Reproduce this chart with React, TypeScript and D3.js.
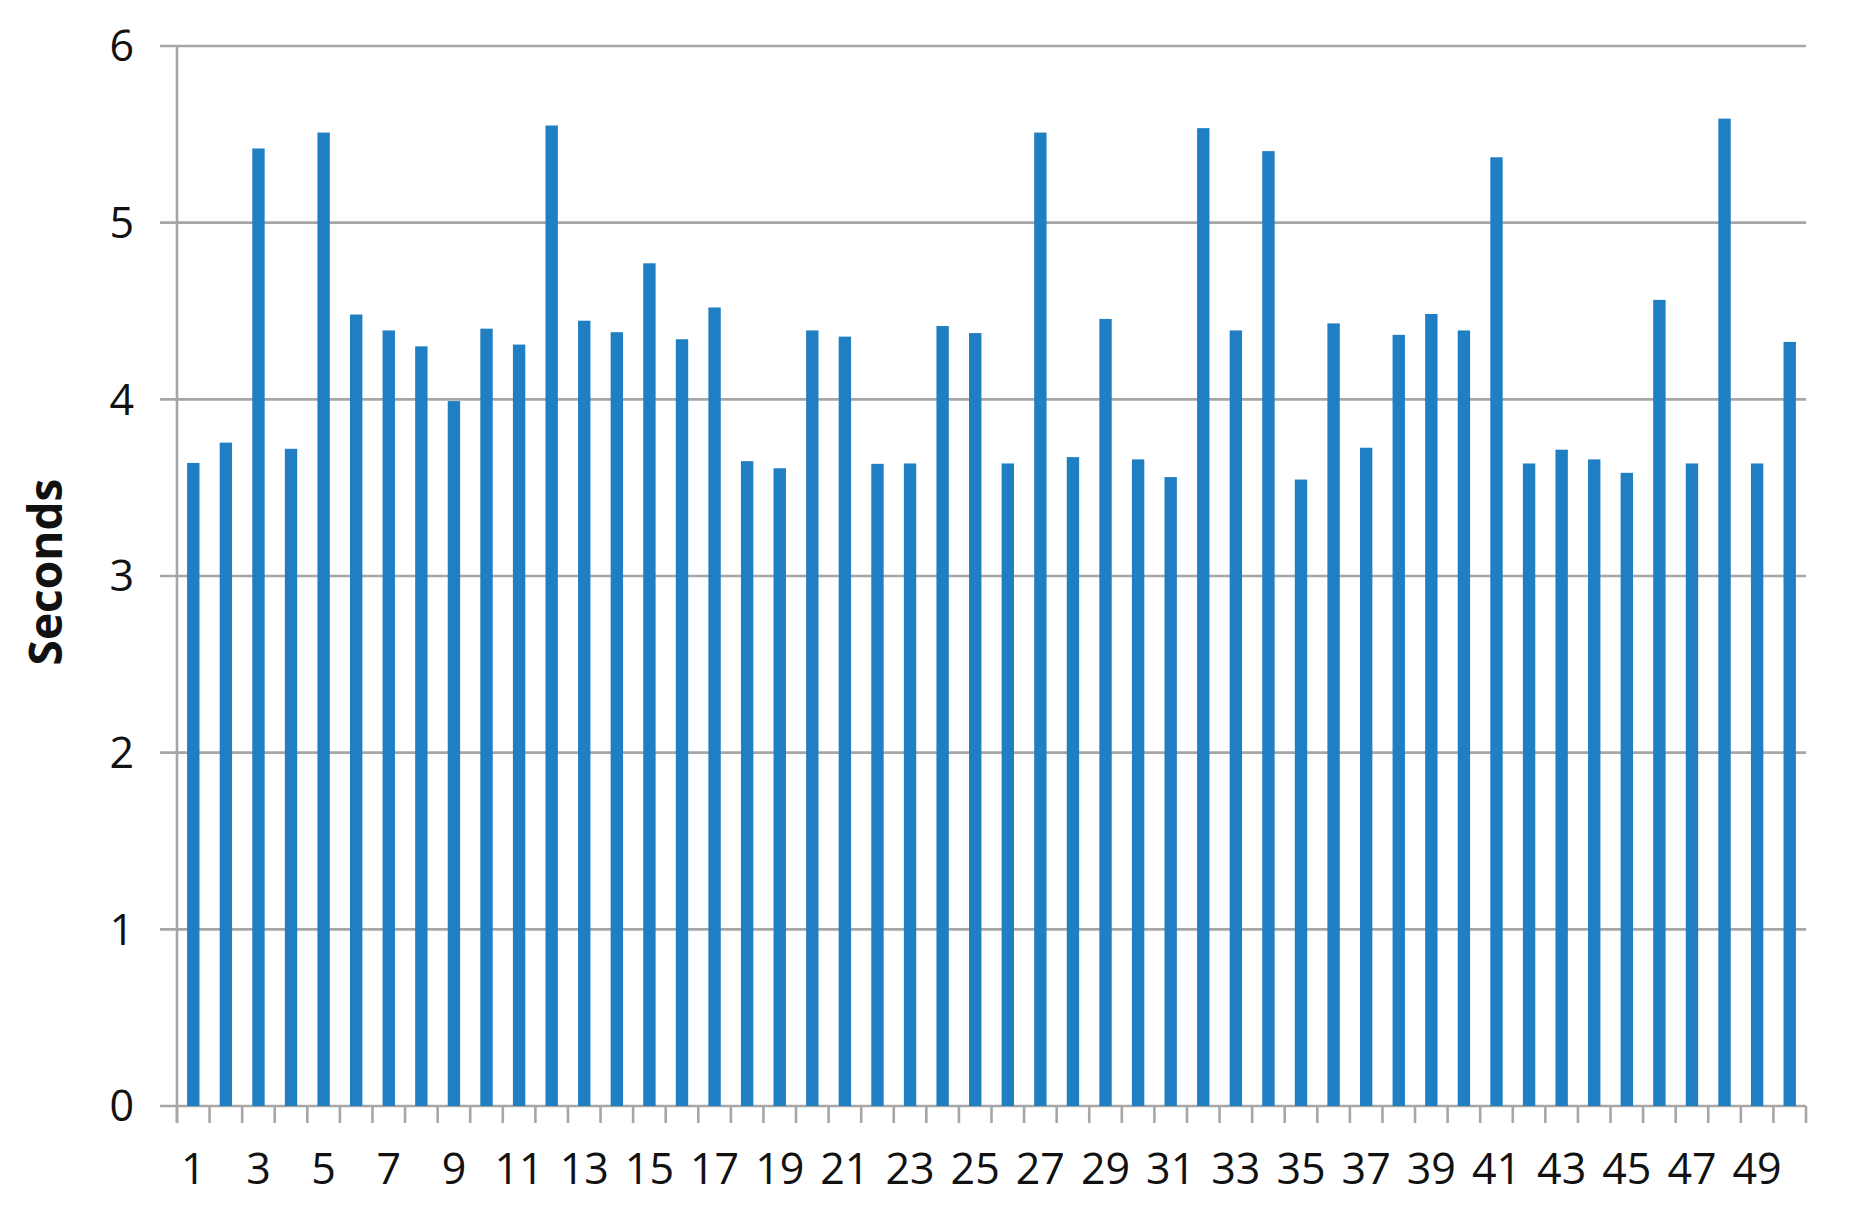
import * as d3 from "d3";
import { useEffect, useRef } from "react";

// trial number -> time in seconds
const trials = Array.from({ length: 50 }, (_, i) => String(i + 1));
const seconds = [
    3.64, 3.755, 5.42, 3.72, 5.51, 4.48, 4.39, 4.30, 3.99, 4.40,
    4.31, 5.55, 4.445, 4.38, 4.77, 4.34, 4.52, 3.65, 3.61, 4.39,
    4.355, 3.635, 3.637, 4.415, 4.375, 3.637, 5.51, 3.673, 4.455, 3.66,
    3.56, 5.535, 4.39, 5.405, 3.546, 4.43, 3.726, 4.365, 4.483, 4.39,
    5.37, 3.637, 3.715, 3.66, 3.584, 4.563, 3.637, 5.589, 3.637, 4.325,
];
const xTickLabels = ["1", "3", "5", "7", "9", "11", "13", "15", "17", "19", "21", "23", "25",
    "27", "29", "31", "33", "35", "37", "39", "41", "43", "45", "47", "49"];
const yTicks = [0, 1, 2, 3, 4, 5, 6];

const W = 1859, H = 1230;
const left = 177, right = 1806, top = 46, bottom = 1106;
const gridColor = "#a6a6a6";
const barColor = "#1f7fc2";
const font = "'Open Sans', 'Liberation Sans', sans-serif";

export default function App() {
    const svgRef = useRef(null);

    useEffect(() => {
        const svg = d3.select(svgRef.current);
        svg.selectAll("*").remove();

        const xScale = d3.scaleBand<string>().domain(trials).range([left, right])
            .paddingInner(0.62).paddingOuter(0.31);
        const yScale = d3.scaleLinear().domain([0, 6]).range([bottom, top]);
        const step = xScale.step();
        const halfGap = step * xScale.paddingInner() / 2;

        // horizontal gridlines (incl. baseline), extending past the axis as ticks
        svg.append("g")
            .selectAll("line")
            .data(yTicks)
            .join("line")
            .attr("x1", left - 17)
            .attr("x2", right)
            .attr("y1", d => yScale(d))
            .attr("y2", d => yScale(d))
            .attr("stroke", gridColor)
            .attr("stroke-width", 2.6);

        // y labels
        svg.append("g")
            .selectAll("text")
            .data(yTicks)
            .join("text")
            .attr("x", 134)
            .attr("y", d => yScale(d))
            .attr("dy", "0.36em")
            .attr("text-anchor", "end")
            .style("font-family", font)
            .style("font-size", "43px")
            .attr("fill", "#111")
            .text(d => d);

        // x ticks between categories
        const boundaries = trials.map(t => (xScale(t) as number) - halfGap)
            .concat([(xScale(trials[trials.length - 1]) as number) + xScale.bandwidth() + halfGap]);
        svg.append("g")
            .selectAll("line")
            .data(boundaries)
            .join("line")
            .attr("x1", d => d)
            .attr("x2", d => d)
            .attr("y1", bottom)
            .attr("y2", bottom + 17)
            .attr("stroke", gridColor)
            .attr("stroke-width", 2.6);

        // bars
        svg.append("g")
            .selectAll("rect")
            .data(seconds)
            .join("rect")
            .attr("x", (_, i) => xScale(trials[i]) as number)
            .attr("y", d => yScale(d))
            .attr("width", xScale.bandwidth())
            .attr("height", d => bottom - yScale(d))
            .attr("fill", barColor);

        // y axis line
        svg.append("line")
            .attr("x1", left).attr("x2", left)
            .attr("y1", top).attr("y2", bottom + 17)
            .attr("stroke", gridColor)
            .attr("stroke-width", 2.6);

        // x labels (every other trial)
        svg.append("g")
            .selectAll("text")
            .data(xTickLabels)
            .join("text")
            .attr("x", d => (xScale(d) as number) + xScale.bandwidth() / 2)
            .attr("y", 1184)
            .attr("text-anchor", "middle")
            .style("font-family", font)
            .style("font-size", "43px")
            .attr("fill", "#111")
            .text(d => d);

        // y title
        svg.append("text")
            .attr("transform", "translate(62," + 572 + ")rotate(-90)")
            .attr("text-anchor", "middle")
            .style("font-family", font)
            .style("font-size", "46px")
            .style("font-weight", "bold")
            .attr("fill", "#111")
            .text("Seconds");
    }, []);

    return (
        <svg ref={svgRef} width={W} height={H}
            style={{ position: "absolute", left: 0, top: 0, background: "#fff" }} />
    );
}
